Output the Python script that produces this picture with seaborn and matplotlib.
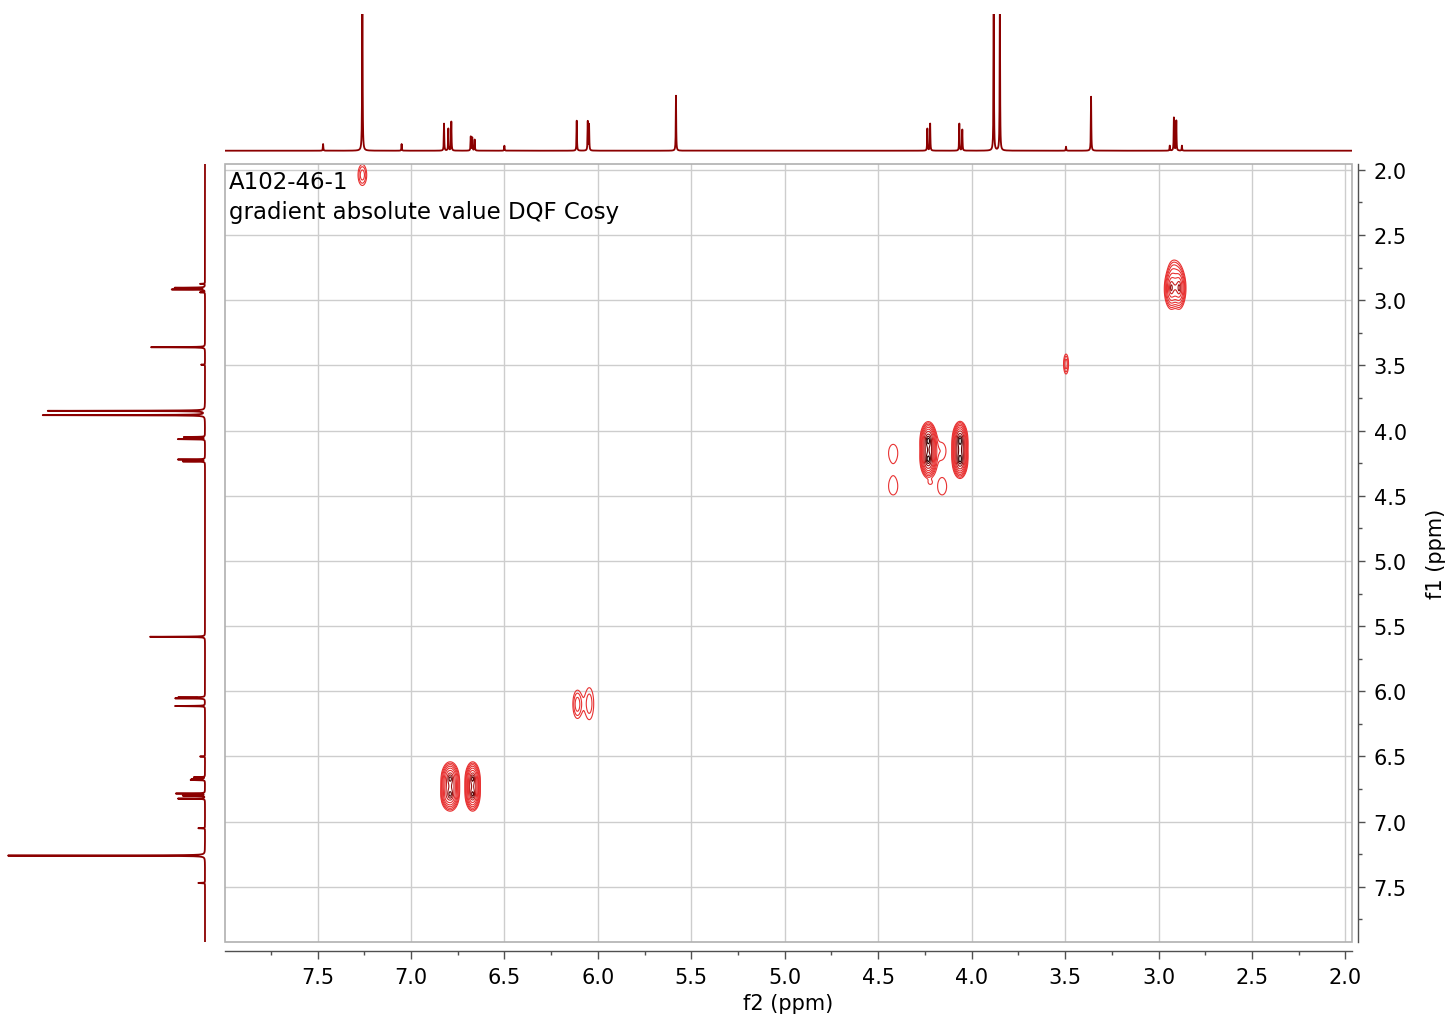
import numpy as np
import matplotlib
matplotlib.use("Agg")
import matplotlib.pyplot as plt
import seaborn as sns
from matplotlib.ticker import MultipleLocator, FormatStrFormatter
from matplotlib.patches import Rectangle

# ---------------- data ----------------
# 1D 1H spectrum (projection): peak positions (ppm) and heights (display units)
peak_ppm = [7.47, 7.26, 7.05, 6.823, 6.800, 6.784, 6.680, 6.672, 6.659, 6.50,
            6.113, 6.054, 6.047, 5.582, 4.237, 4.222, 4.066, 4.050, 3.882, 3.849,
            3.495, 3.361, 2.940, 2.918, 2.905, 2.875]
peak_height = [6.7, 197, 6.7, 27, 22, 29, 14, 13, 11, 5,
               30, 29, 26, 55, 22, 27, 27, 21, 162, 157,
               4, 54, 5, 33, 30, 5]

# 2D DQF-COSY peaks: f2 (ppm), f1 (ppm), amplitude, widths, sharp-core fraction
cosy_f2 = [6.790, 6.790, 6.670, 6.670, 6.815,
           6.110, 6.046,
           4.232, 4.232, 4.062, 4.062, 4.420, 4.420, 4.162, 4.158, 4.223,
           3.495,
           2.932, 2.890, 2.911, 2.915, 2.872, 2.952,
           7.260]
cosy_f1 = [6.670, 6.790, 6.670, 6.790, 6.810,
           6.100, 6.095,
           4.078, 4.219, 4.078, 4.219, 4.170, 4.430, 4.155, 4.430, 4.400,
           3.490,
           2.905, 2.905, 2.900, 2.745, 2.910, 2.920,
           2.040]
cosy_amp = [16, 16, 16, 16, 1.3,
            2.4, 1.7,
            25, 25, 27, 27, 1.3, 1.3, 1.35, 1.3, 0.9,
            2.4,
            10, 10, 3, 1.3, 1.2, 1.15,
            2.4]
cosy_w2 = [0.023, 0.023, 0.019, 0.019, 0.012,
           0.018, 0.023,
           0.0194, 0.0194, 0.018, 0.018, 0.033, 0.033, 0.031, 0.033, 0.012,
           0.010,
           0.016, 0.016, 0.020, 0.020, 0.015, 0.015,
           0.0175]
cosy_w1 = [0.062, 0.062, 0.062, 0.062, 0.040,
           0.081, 0.119,
           0.064, 0.064, 0.064, 0.064, 0.088, 0.088, 0.080, 0.088, 0.018,
           0.058,
           0.085, 0.085, 0.070, 0.050, 0.075, 0.075,
           0.061]
cosy_core = [0.45, 0.45, 0.45, 0.45, 0.0,
             0.0, 0.0,
             0.45, 0.45, 0.45, 0.45, 0.0, 0.0, 0.0, 0.0, 0.0,
             0.0,
             0.45, 0.45, 0.0, 0.0, 0.0, 0.0,
             0.0]

# ---------------- figure ----------------
W, H = 1449, 1020
sns.set_theme(style="white")
plt.rcParams['font.family'] = ['DejaVu Sans']
fig = plt.figure(figsize=(W / 100, H / 100), dpi=100)

XL = (7.995, 1.965)
YL = (7.919, 1.952)

ax = fig.add_axes([225 / W, 1 - 942.5 / H, 1127 / W, 778 / H])
ax_top = fig.add_axes([225 / W, 1 - 155 / H, 1127 / W, 140 / H])
ax_left = fig.add_axes([5 / W, 1 - 942.5 / H, 202 / W, 778 / H])

# ---- 2D contour (apodised line shape: broad base + optional sharp core) ----
gx = np.linspace(1.94, 8.02, 1600)
gy = np.linspace(1.93, 7.95, 1400)
Z = np.zeros((gy.size, gx.size))
for x0, y0, a, sx, sy, c in zip(cosy_f2, cosy_f1, cosy_amp, cosy_w2,
                                cosy_w1, cosy_core):
    ux = ((gx - x0) / sx) ** 2
    uy = ((gy - y0) / sy) ** 2
    Z += a * (1 - c) * np.outer(np.exp(-uy / 2), np.exp(-ux / 2))
    if c > 0:
        Z += a * c * np.outer(np.exp(-uy / 0.18), np.exp(-ux / 0.18))

levels = 1.4 ** np.arange(10)
cols = ['#e83232'] * 6 + ['#c82424', '#9a1414', '#5a0505', '#200000']
ax.contour(gx, gy, Z, levels=levels, colors=cols, linewidths=0.8, zorder=3)

ax.set_xlim(*XL)
ax.set_ylim(*YL)
ax.set_axisbelow(True)
ax.grid(True, which='major', color='#cdcdcd', lw=1.0)
ax.xaxis.set_major_locator(MultipleLocator(0.5))
ax.xaxis.set_minor_locator(MultipleLocator(0.25))
ax.yaxis.set_major_locator(MultipleLocator(0.5))
ax.yaxis.set_minor_locator(MultipleLocator(0.25))
ax.xaxis.set_major_formatter(FormatStrFormatter('%.1f'))
ax.yaxis.set_major_formatter(FormatStrFormatter('%.1f'))
ax.yaxis.tick_right()
ax.yaxis.set_label_position('right')
for s in ['left', 'top']:
    ax.spines[s].set_visible(False)
ax.spines['bottom'].set_position(('outward', 7))
ax.spines['right'].set_position(('outward', 4.5))
for s in ['bottom', 'right']:
    ax.spines[s].set_color('#505050')
    ax.spines[s].set_linewidth(1.0)
ax.add_patch(Rectangle((0, 0), 1, 1, transform=ax.transAxes, fill=False,
                       edgecolor='#b0b0b0', lw=1.2, clip_on=False, zorder=4))
ax.tick_params(axis='x', which='major', direction='out', length=6, width=1,
               color='#505050', pad=5, labelsize=15, labelcolor='black',
               bottom=True, top=False)
ax.tick_params(axis='x', which='minor', direction='out', length=3, width=1,
               color='#505050', bottom=True, top=False)
ax.tick_params(axis='y', which='major', direction='out', length=5, width=1,
               color='#505050', pad=6, labelsize=15, labelcolor='black',
               right=True, left=False)
ax.tick_params(axis='y', which='minor', direction='out', length=3, width=1,
               color='#505050', right=True, left=False)
ax.set_xlabel('f2 (ppm)', fontsize=15, labelpad=5, color='black')
ax.set_ylabel('f1 (ppm)', fontsize=15, labelpad=14, color='black', rotation=90)

# ---- 1D projections ----
ppm = np.arange(1.90, 8.06, 0.00025)
hw = 0.0013
inten = np.zeros_like(ppm)
for p0, h in zip(peak_ppm, peak_height):
    inten += h * hw ** 2 / ((ppm - p0) ** 2 + hw ** 2)

sns.lineplot(x=ppm, y=inten, ax=ax_top, color='#8b0000', lw=1.3,
             estimator=None, sort=False)
ax_top.set_xlim(*XL)
ax_top.set_ylim(-3.3, 136.7)
ax_top.axis('off')

sns.lineplot(x=inten, y=ppm, ax=ax_left, color='#8b0000', lw=1.3,
             estimator=None, sort=False, orient='y')
ax_left.set_ylim(*YL)
ax_left.set_xlim(200, -2)
ax_left.axis('off')

# ---- annotation ----
fig.text(229 / W, 1 - 188.6 / H, 'A102-46-1', fontsize=16.5, va='baseline',
         ha='left', color='black')
fig.text(229 / W, 1 - 218.8 / H, 'gradient absolute value DQF Cosy',
         fontsize=16.5, va='baseline', ha='left', color='black')

fig.savefig('out.png', dpi=100)
